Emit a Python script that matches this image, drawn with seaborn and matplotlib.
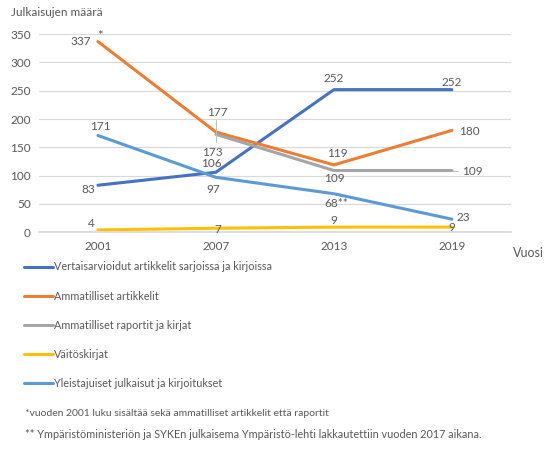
import matplotlib
matplotlib.use("Agg")
import matplotlib.pyplot as plt
import seaborn as sns
import numpy as np
import pandas as pd

years = ["2001", "2007", "2013", "2019"]
series_names = [
    "Vertaisarvioidut artikkelit sarjoissa ja kirjoissa",
    "Ammatilliset artikkelit",
    "Ammatilliset raportit ja kirjat",
    "Väitöskirjat",
    "Yleistajuiset julkaisut ja kirjoitukset",
]
vertaisarvioidut = [83, 106, 252, 252]
ammatilliset_artikkelit = [337, 177, 119, 180]
ammatilliset_raportit = [np.nan, 173, 109, 109]
vaitoskirjat = [4, 7, 9, 9]
yleistajuiset = [171, 97, 68, 23]
colors = ["#4472C4", "#ED7D31", "#A5A5A5", "#FFC000", "#5B9BD5"]
yticks = [0, 50, 100, 150, 200, 250, 300, 350]

values = [vertaisarvioidut, ammatilliset_artikkelit, ammatilliset_raportit, vaitoskirjat, yleistajuiset]
rows = []
for name, vals in zip(series_names, values):
    for i, v in enumerate(vals):
        rows.append({"Vuosi": i, "Sarja": name, "Arvo": v})
df = pd.DataFrame(rows)

sns.set_theme(style="white")
plt.rcParams["font.family"] = ["Lato", "DejaVu Sans"]
txt = "#595959"

fig = plt.figure(figsize=(5.56, 4.5), dpi=100)
ax = fig.add_axes([0.070, 0.484, 0.849, 0.44])

for name, col in zip(series_names, colors):
    sub = df[df["Sarja"] == name].dropna()
    sns.lineplot(data=sub, x="Vuosi", y="Arvo", color=col, linewidth=2.2, ax=ax, label=name)

ax.set_xlim(-0.5, 3.5)
ax.set_ylim(0, 350)
ax.set_yticks(yticks)
ax.set_xticks(range(len(years)))
ax.set_xticklabels(years)
ax.grid(axis="y", color="#D9D9D9", linewidth=0.8)
ax.set_axisbelow(True)
for s in ["top", "right", "left"]:
    ax.spines[s].set_visible(False)
ax.spines["bottom"].set_color("#D9D9D9")
ax.tick_params(axis="both", length=0, labelsize=8.5, labelcolor=txt, pad=6)
ax.set_xlabel("")
ax.set_ylabel("")

# leader lines (gray series)
ax.plot([1, 1], [159, 198], color="#BFBFBF", linewidth=0.7)
ax.plot([3, 3.05], [109, 109], color="#BFBFBF", linewidth=0.7)

fs = 8.5
def lab(i, v, dx, dy, s=None, ha="center"):
    ax.annotate(s if s is not None else str(v), (i, v), xytext=(dx, dy), textcoords="offset pixels",
                ha=ha, va="center", fontsize=fs, color=txt)

# blue
lab(0, 83, -10, -4); lab(1, 106, -5, 9); lab(2, 252, 0, 11); lab(3, 252, 0, 7)
# orange
lab(0, 337, -17, 0)
ax.annotate("*", (0, 337), xytext=(2, 6), textcoords="offset pixels", ha="center", va="center",
            fontsize=fs + 1, color=txt)
lab(1, 177, 1, 20); lab(2, 119, 3, 11); lab(3, 180, 17, -1)
# gray
lab(1, 173, -4, -18); lab(2, 109, 0, -8); lab(3, 109, 20, -1)
# yellow
lab(0, 4, -7, 6); lab(1, 7, 2, -1); lab(2, 9, 0, 7); lab(3, 9, 0, 0)
# light blue
lab(0, 171, 2, 9); lab(1, 97, -3, -12); lab(2, 68, -10, -10, "68**", ha="left"); lab(3, 23, 11, 2)

fig.text(0.020, 0.972, "Julkaisujen määrä", fontsize=8.5, color=txt, ha="left", va="center")
fig.text(0.922, 0.437, "Vuosi", fontsize=9, color=txt, ha="left", va="center")

ax.legend(loc="upper left", bbox_to_anchor=(0.043, 0.419), bbox_transform=fig.transFigure,
          frameon=False, fontsize=7.8, labelcolor=txt, handlelength=2.65, handletextpad=0.1,
          labelspacing=1.67, borderpad=0, borderaxespad=0)

fig.text(0.045, 0.082, "*vuoden 2001 luku sisältää sekä ammatilliset artikkelit että raportit",
         fontsize=7.5, color=txt, ha="left", va="center")
fig.text(0.045, 0.035, "** Ympäristöministeriön ja SYKEn julkaisema Ympäristö-lehti lakkautettiin vuoden 2017 aikana.",
         fontsize=7.85, color=txt, ha="left", va="center")

fig.savefig("out.png", dpi=100)
